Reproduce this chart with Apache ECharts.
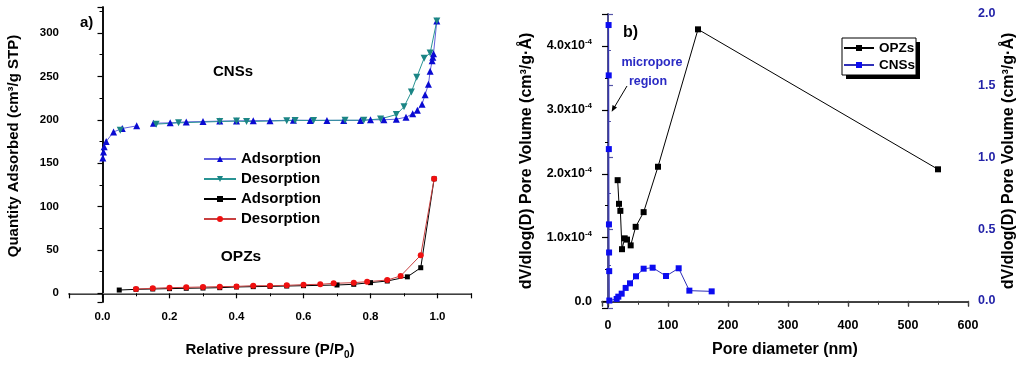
<!DOCTYPE html>
<html><head><meta charset="utf-8">
<script src="https://cdn.jsdelivr.net/npm/echarts@6/dist/echarts.min.js"></script>
<style>html,body{margin:0;padding:0;background:#fff}#c{width:1024px;height:365px}</style>
</head><body><div id="c"></div>
<script>
// ---------- Panel a) : N2 isotherms ----------
const cnsAdsX = [0.001,0.003,0.005,0.011,0.033,0.059,0.102,null,0.152,0.202,0.25,0.30,0.35,0.40,0.45,0.50,0.57,0.62,0.67,0.72,0.77,0.80,0.84,0.877,0.906,0.926,0.94,0.954,0.963,0.973,0.978,0.984,0.986,0.988,0.998];
const cnsAdsY = [156,163,169,175,186,190,193,null,196,196.5,197.6,198,198.5,198.7,199,199,199.5,199.3,199.3,199.3,199.3,200,200,200.7,203,207,211,218,229,241,256,268,272,276,314];
const cnsDesX = [0.998,0.978,0.96,0.938,0.922,0.90,0.877,0.83,0.78,0.724,0.63,0.575,0.55,0.43,0.40,0.35,0.227,0.16,null,0.053];
const cnsDesY = [314,277,271,249,232,215,206,201,199.5,199.5,199.3,199.3,199,198,198.5,198,196.5,195,null,188];
const opzAdsX = [0.05,0.1,0.15,0.2,0.25,0.3,0.35,0.4,0.45,0.5,0.55,0.6,0.7,0.75,0.8,0.85,0.91,0.95,0.99];
const opzAdsY = [3.8,4.6,5,5.4,5.8,6.1,6.5,7.3,7.7,8,8.4,8.8,9.6,10.4,12.3,14.2,19,29.5,132];
const opzDesX = [0.1,0.15,0.2,0.25,0.3,0.35,0.4,0.45,0.5,0.55,0.6,0.65,0.69,0.75,0.79,0.85,0.89,0.95,0.99];
const opzDesY = [5,5.8,6.5,6.9,7.3,7.7,8,8.8,8.8,9.2,10,10.4,11.5,12.3,13.4,15.3,20,44,132];
const aXTicks = [0,0.2,0.4,0.6,0.8,1.0];
const aYTicks = [0,50,100,150,200,250,300];

// ---------- Panel b) : pore size distribution ----------
const opzPoreD = [16.1,18.3,20.6,23.3,27.8,31.7,37.8,46.1,59.4,83.3,150,550];
const opzPoreV = [1.9e-4,1.53e-4,1.42e-4,0.82e-4,0.99e-4,0.97e-4,0.88e-4,1.17e-4,1.40e-4,2.11e-4,4.26e-4,2.07e-4];
const cnsPoreD = [1.0,1.2,1.4,1.6,1.8,2.0,2.2,14.4,17.2,22.8,29.4,36.7,46.7,59.4,74.4,96.7,117.8,135.6,172.8];
const cnsPoreV = [1.923,1.572,1.058,0.533,0.337,0.207,0.002,0.013,0.029,0.050,0.090,0.122,0.171,0.224,0.231,0.173,0.227,0.071,0.066];
const bXTicks = [0,100,200,300,400,500,600];
const bYLTicks = [0,1e-4,2e-4,3e-4,4e-4];
const bYRTicks = [0,0.5,1.0,1.5,2.0];

const FONT = 'Liberation Sans, Arial, sans-serif';
const zip = (xs, ys) => xs.map((x, i) => (x === null || ys[i] === null) ? ['-', '-'] : [x, ys[i]]);
const downTri = 'path://M0,0 L10,0 L5,9 Z';
const BLUE_AX = '#5656a8';

const lbl = (size, color) => ({fontFamily: FONT, fontWeight: 'bold', fontSize: size, color: color || '#000'});
const tick = (color, len, inside) => ({show: true, inside: !!inside, length: len, lineStyle: {color: color, width: 1.2}});
const minor = (color) => ({show: true, splitNumber: 2, length: 3, lineStyle: {color: color, width: 1}});

const chart = echarts.init(document.getElementById('c'), null, {renderer: 'canvas'});
const option = {
  animation: false,
  backgroundColor: '#fff',
  grid: [
    {left: 69, top: 7, width: 402, height: 295},
    {left: 602, top: 14, width: 366, height: 294}
  ],
  xAxis: [
    {gridIndex: 0, type: 'value', position: 'bottom', min: -0.1, max: 1.1,
      axisLine: {lineStyle: {color: '#000', width: 1.5}},
      axisTick: tick('#000', 5), minorTick: minor('#000'),
      axisLabel: Object.assign(lbl(11.5), {margin: 9, customValues: aXTicks, formatter: v => v.toFixed(1)}),
      splitLine: {show: false}},
    {gridIndex: 0, type: 'value', position: 'top', min: -0.1, max: 1.1,
      axisLine: {lineStyle: {color: '#8c8c8c', width: 1.2}},
      axisTick: {show: false}, axisLabel: {show: false}, splitLine: {show: false}},
    {gridIndex: 1, type: 'value', position: 'bottom', min: -10, max: 600,
      axisLine: {lineStyle: {color: '#000', width: 1.5}},
      axisTick: tick('#000', 5), minorTick: minor('#000'),
      axisLabel: Object.assign(lbl(12.5), {margin: 11, customValues: bXTicks}),
      splitLine: {show: false}},
    {gridIndex: 1, type: 'value', position: 'top', min: -10, max: 600,
      axisLine: {lineStyle: {color: '#444', width: 1.2}},
      axisTick: tick('#444', 5, true), minorTick: minor('#444'),
      axisLabel: {show: false}, splitLine: {show: false}}
  ],
  yAxis: [
    {gridIndex: 0, type: 'value', position: 'left', min: -10, max: 330,
      axisLine: {show: true, lineStyle: {color: '#000', width: 1.5}},
      axisTick: tick('#000', 5), minorTick: minor('#000'),
      axisLabel: Object.assign(lbl(11.5), {margin: 10, customValues: aYTicks}),
      splitLine: {show: false}},
    {gridIndex: 0, type: 'value', position: 'right', min: -10, max: 330,
      axisLine: {show: true, lineStyle: {color: '#000', width: 1.5}},
      axisTick: {show: false}, axisLabel: {show: false}, splitLine: {show: false}},
    {gridIndex: 1, type: 'value', position: 'left', min: -1e-5, max: 4.5e-4,
      axisLine: {show: true, lineStyle: {color: '#000', width: 1.5}},
      axisTick: tick('#000', 6), minorTick: minor('#000'),
      axisLabel: {margin: 10, customValues: bYLTicks,
        formatter: v => Math.abs(v) < 1e-9 ? '{m|0.0}' : '{m|' + (v / 1e-4).toFixed(1) + 'x10}{s|-4}',
        rich: {
          m: {fontFamily: FONT, fontWeight: 'bold', fontSize: 12.5, color: '#000', lineHeight: 16},
          s: {fontFamily: FONT, fontWeight: 'bold', fontSize: 8, color: '#000', verticalAlign: 'top', lineHeight: 8}
        }},
      splitLine: {show: false}},
    {gridIndex: 1, type: 'value', position: 'right', min: -0.05, max: 2.0,
      axisLine: {show: true, lineStyle: {color: BLUE_AX, width: 1.5}},
      axisTick: tick(BLUE_AX, 5), minorTick: minor(BLUE_AX),
      axisLabel: Object.assign(lbl(12.5, '#2323a8'), {margin: 10, customValues: bYRTicks, formatter: v => v.toFixed(1)}),
      splitLine: {show: false}}
  ],
  legend: [
    {orient: 'vertical', left: 203, top: 151, padding: 0, itemGap: 4,
      itemWidth: 32, itemHeight: 7.5,
      textStyle: {fontFamily: FONT, fontWeight: 'bold', fontSize: 15, color: '#000', lineHeight: 16},
      formatter: n => n.replace(/^\S+ /, ''),
      data: ['CNSs Adsorption', 'CNSs Desorption', 'OPZs Adsorption', 'OPZs Desorption']},
    {orient: 'vertical', left: 842, top: 38, padding: [2, 1, 2, 1], itemGap: 1,
      itemWidth: 30, itemHeight: 7.5,
      backgroundColor: '#fff', borderColor: '#000', borderWidth: 1,
      textStyle: {fontFamily: FONT, fontWeight: 'bold', fontSize: 13.5, color: '#000', lineHeight: 16},
      data: ['OPZs', 'CNSs']}
  ],
  series: [
    {name: 'CNSs Adsorption', type: 'line', xAxisIndex: 0, yAxisIndex: 0, data: zip(cnsAdsX, cnsAdsY),
      symbol: 'triangle', symbolSize: 7, connectNulls: false,
      lineStyle: {color: '#6262dc', width: 1}, itemStyle: {color: '#0a0ad2'}},
    {name: 'CNSs Desorption', type: 'line', xAxisIndex: 0, yAxisIndex: 0, data: zip(cnsDesX, cnsDesY),
      symbol: downTri, symbolSize: 7, connectNulls: false,
      lineStyle: {color: '#2a9494', width: 1}, itemStyle: {color: '#1b8585'}},
    {name: 'OPZs Adsorption', type: 'line', xAxisIndex: 0, yAxisIndex: 0, data: zip(opzAdsX, opzAdsY),
      symbol: 'rect', symbolSize: 5,
      lineStyle: {color: '#000', width: 1}, itemStyle: {color: '#000'}},
    {name: 'OPZs Desorption', type: 'line', xAxisIndex: 0, yAxisIndex: 0, data: zip(opzDesX, opzDesY),
      symbol: 'circle', symbolSize: 6,
      lineStyle: {color: '#c84040', width: 1}, itemStyle: {color: '#f01010'}},
    {name: 'OPZs', type: 'line', xAxisIndex: 2, yAxisIndex: 2, data: zip(opzPoreD, opzPoreV),
      symbol: 'rect', symbolSize: 6,
      lineStyle: {color: '#000', width: 1}, itemStyle: {color: '#000'}},
    {name: 'CNSs', type: 'line', xAxisIndex: 2, yAxisIndex: 3, data: zip(cnsPoreD, cnsPoreV),
      symbol: 'rect', symbolSize: 6,
      lineStyle: {color: '#2f2fb8', width: 1}, itemStyle: {color: '#0c0cf0'}}
  ],
  graphic: [
    {type: 'rect', z: -1, shape: {x: 846, y: 42, width: 74, height: 37}, style: {fill: '#000'}},
    {type: 'text', x: 13.5, y: 146, rotation: Math.PI / 2,
      style: {text: 'Quantity Adsorbed (cm³/g STP)', fontFamily: FONT, fontWeight: 'bold', fontSize: 15,
        fill: '#000', align: 'center', verticalAlign: 'middle'}},
    {type: 'text', x: 270, y: 350,
      style: {text: 'Relative pressure (P/P{sub|0})', fontFamily: FONT, fontWeight: 'bold', fontSize: 15,
        fill: '#000', align: 'center', verticalAlign: 'middle', lineHeight: 20,
        rich: {sub: {fontFamily: FONT, fontWeight: 'bold', fontSize: 10, verticalAlign: 'bottom', lineHeight: 10}}}},
    {type: 'text', x: 527, y: 161, rotation: Math.PI / 2,
      style: {text: 'dV/dlog(D) Pore Volume (cm³/g·Å)', fontFamily: FONT, fontWeight: 'bold', fontSize: 16,
        fill: '#000', align: 'center', verticalAlign: 'middle'}},
    {type: 'text', x: 1009, y: 161, rotation: Math.PI / 2,
      style: {text: 'dV/dlog(D) Pore Volume (cm³/g·Å)', fontFamily: FONT, fontWeight: 'bold', fontSize: 16,
        fill: '#000', align: 'center', verticalAlign: 'middle'}},
    {type: 'text', x: 785, y: 350,
      style: {text: 'Pore diameter (nm)', fontFamily: FONT, fontWeight: 'bold', fontSize: 16,
        fill: '#000', align: 'center', verticalAlign: 'middle'}},
    {type: 'text', x: 80, y: 23,
      style: {text: 'a)', fontFamily: FONT, fontWeight: 'bold', fontSize: 15, fill: '#000', align: 'left', verticalAlign: 'middle'}},
    {type: 'text', x: 233, y: 72,
      style: {text: 'CNSs', fontFamily: FONT, fontWeight: 'bold', fontSize: 15, fill: '#000', align: 'center', verticalAlign: 'middle'}},
    {type: 'text', x: 241, y: 257,
      style: {text: 'OPZs', fontFamily: FONT, fontWeight: 'bold', fontSize: 15.5, fill: '#000', align: 'center', verticalAlign: 'middle'}},
    {type: 'text', x: 623, y: 33,
      style: {text: 'b)', fontFamily: FONT, fontWeight: 'bold', fontSize: 16, fill: '#000', align: 'left', verticalAlign: 'middle'}},
    {type: 'text', x: 652, y: 63,
      style: {text: 'micropore', fontFamily: FONT, fontWeight: 'bold', fontSize: 12.5, fill: '#2a2ac4', align: 'center', verticalAlign: 'middle'}},
    {type: 'text', x: 648, y: 82,
      style: {text: 'region', fontFamily: FONT, fontWeight: 'bold', fontSize: 12.5, fill: '#2a2ac4', align: 'center', verticalAlign: 'middle'}},
    {type: 'line', shape: {x1: 627, y1: 86, x2: 613, y2: 109.5}, style: {stroke: '#000', lineWidth: 1}},
    {type: 'polygon', shape: {points: [[611.7, 111.7], [617, 107.6], [612.5, 105]]}, style: {fill: '#000'}}
  ]
};
chart.setOption(option);
</script>
</body></html>
